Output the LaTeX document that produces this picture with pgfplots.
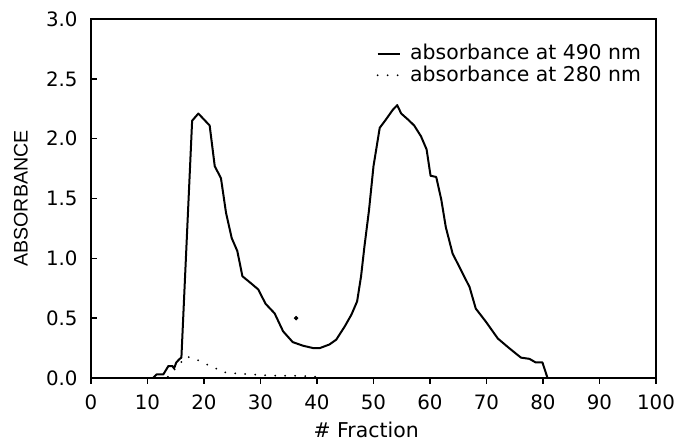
\documentclass[border=0pt]{standalone}
\usepackage{fontspec}
\setmainfont{DejaVu Sans}
\newfontfamily\labfont{Liberation Sans}
\usepackage{pgfplots}
\pgfplotsset{compat=1.18}

\begin{document}
\begin{tikzpicture}
\useasboundingbox (-45.5pt,-32pt) rectangle (293pt,189pt);
\begin{axis}[
    at={(0pt,0pt)}, anchor=south west,
    scale only axis,
    width=282.5pt, height=179.5pt,
    xmin=0, xmax=100, ymin=0, ymax=3,
    xtick={0,10,20,30,40,50,60,70,80,90,100},
    ytick={0,0.5,1,1.5,2,2.5,3},
    tick pos=left,
    tick align=inside,
    major tick length=3pt,
    x tick style={yshift=-3pt},
    major tick style={black, line width=0.75pt},
    axis line style={line width=0.75pt},
    /pgf/number format/assume math mode=true,
    tick label style={font=\fontsize{9.9}{11}\selectfont},
    xticklabel style={yshift=-5.0pt},
    yticklabel style={xshift=-3.2pt, /pgf/number format/.cd, fixed, fixed zerofill, precision=1},
    xlabel={\# Fraction},
    ylabel={ABSORBANCE},
    every axis x label/.style={at={(axis description cs:0.487,-0.145)}, anchor=center, font=\fontsize{10.2}{12}\selectfont},
    every axis y label/.style={at={(axis description cs:-0.124,0.5)}, rotate=90, anchor=center, font=\labfont\fontsize{9.8}{12}\selectfont},
    legend style={at={(axis description cs:0.977,0.935)}, anchor=north east, draw=none, fill=none,
        inner sep=0pt, font=\fontsize{10.2}{11}\selectfont, nodes={inner sep=0.8pt},
        column sep=4pt},
    legend cell align=left,
    legend image code/.code={\draw[#1] (0pt,0pt) -- (11pt,0pt);},
    clip=false,
]
\addplot[black, line width=1pt, line join=round] coordinates {
    (11.0,0) (11.6,0.03) (12.8,0.03) (13.7,0.10) (14.4,0.10) (14.7,0.08)
    (15.1,0.13) (15.7,0.16) (16.0,0.17) (17.9,2.15) (19.0,2.21) (21.0,2.11)
    (21.9,1.77) (23.0,1.67) (23.9,1.38) (24.9,1.17) (25.9,1.06) (26.8,0.85)
    (28.1,0.80) (29.6,0.74) (30.9,0.62) (32.5,0.54) (34.0,0.39) (35.7,0.30)
    (37.5,0.27) (39.3,0.25) (40.5,0.25) (42.2,0.28) (43.4,0.32) (44.9,0.43)
    (46.1,0.53) (47.1,0.64) (47.8,0.85) (48.4,1.10) (49.2,1.40) (50.0,1.77)
    (51.1,2.09) (52.2,2.16) (53.4,2.24) (54.2,2.28) (54.9,2.21) (56.1,2.16)
    (57.2,2.11) (58.4,2.02) (59.4,1.91) (60.1,1.69) (61.1,1.68) (62.0,1.49)
    (62.8,1.26) (64.0,1.04) (65.5,0.90) (67.0,0.76) (68.1,0.58) (69.9,0.47)
    (72.0,0.33) (74.0,0.25) (76.1,0.17) (77.6,0.16) (78.7,0.13) (79.9,0.13)
    (80.8,0)
};
\addlegendentry{absorbance at 490 nm}
\addplot[black, line width=1pt, line cap=round, dash pattern=on 0pt off 5pt] coordinates {
    (13.6,0.01) (16.9,0.18) (18.5,0.16) (20.1,0.12) (21.6,0.095) (23.1,0.05)
    (24.9,0.04) (26.6,0.035) (28.4,0.03) (30.2,0.025) (31.9,0.02) (33.7,0.02)
    (35.5,0.018) (37.3,0.018) (38.8,0.012) (40.5,0.01)
};
\addlegendentry{absorbance at 280 nm}
\addplot[only marks, mark=*, mark size=0.9pt, black, forget plot] coordinates {(36.3,0.50)};
\end{axis}
\end{tikzpicture}
\end{document}
